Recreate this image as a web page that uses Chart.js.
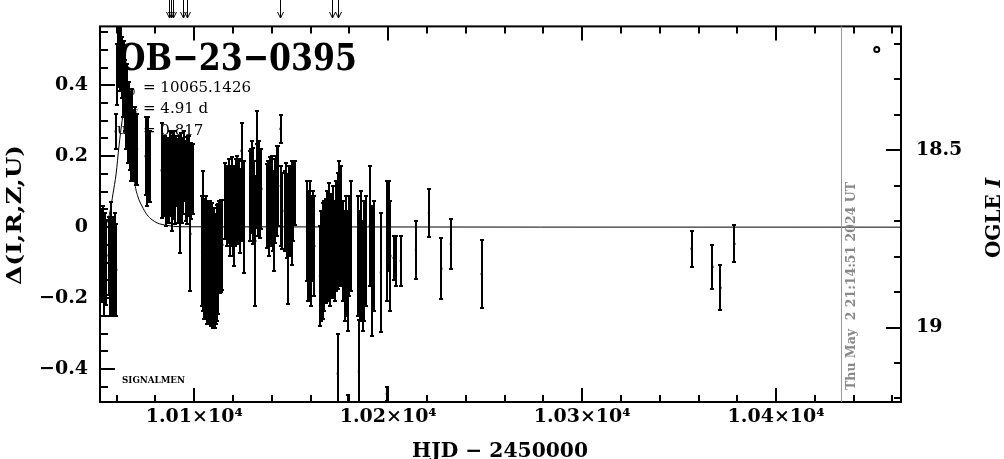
<!DOCTYPE html>
<html>
<head>
<meta charset="utf-8">
<script src="https://cdn.jsdelivr.net/npm/chart.js@4.4.1/dist/chart.umd.min.js"></script>
<style>
  html, body { margin: 0; padding: 0; background: #fff; }
  #wrap { width: 1004px; height: 459px; }
  canvas { display: block; }
</style>
</head>
<body>
<div id="wrap"><canvas id="c" width="1004" height="459"></canvas></div>
<script>
// photometry: HJD-2450000, delta mag, error (one line per season chunk)
const hjd = [
  10051.8, 10052.3, 10052.9, 10053.4, 10053.9, 10054.6, 10055.8, 10056.3, 10056.9, 10057.4, 10058.0, 10058.6, 10059.2, 10059.8,
  10059.5, 10060.2, 10060.7, 10061.2, 10061.7, 10062.2, 10062.7, 10063.3, 10063.8, 10064.3, 10064.8, 10065.4, 10065.9, 10066.4, 10066.9, 10067.4, 10068.0, 10068.5, 10069.0, 10069.5, 10070.0, 10070.5,
  10074.9, 10075.4, 10075.9, 10076.4, 10077.0, 10083.2,
  10084.2, 10084.7, 10085.2, 10085.7, 10086.2, 10086.8, 10087.3, 10087.8, 10088.3, 10088.8, 10089.3, 10089.8, 10090.3, 10090.8, 10091.4,
  10091.9, 10092.4, 10092.9, 10093.4, 10093.9, 10094.4, 10094.9, 10095.5, 10096.0, 10096.5, 10097.0, 10097.5, 10098.0, 10098.5, 10099.3,
  10104.0, 10104.5, 10105.0, 10105.6, 10106.1, 10106.6, 10107.1, 10107.6, 10108.1, 10108.6, 10109.1,
  10109.6, 10110.2, 10110.7, 10111.2, 10111.7, 10112.2, 10112.7, 10113.2, 10113.8, 10114.5,
  10116.1, 10116.8, 10117.9, 10118.6, 10119.1, 10119.7, 10120.2, 10120.7, 10121.2, 10121.7, 10122.2, 10122.8, 10123.3, 10123.8, 10124.4, 10124.8, 10125.6,
  10128.9, 10129.4, 10130.0, 10130.5, 10131.0, 10131.5, 10132.1, 10132.5, 10133.0, 10133.6, 10134.1, 10134.6,
  10137.7, 10138.2, 10138.7, 10139.2, 10139.7, 10140.3, 10140.8, 10141.3, 10141.8, 10142.3, 10142.8, 10143.3, 10144.5, 10144.9, 10145.4,
  10147.0, 10147.5, 10148.0, 10148.5, 10149.1, 10149.6, 10150.3, 10151.1, 10151.9,
  10158.1, 10158.8, 10159.6, 10160.4, 10161.1, 10161.9,
  10164.8, 10165.6, 10166.3, 10167.1, 10167.9, 10168.6, 10169.4, 10170.2, 10170.9, 10171.7, 10172.5, 10173.3, 10174.0, 10174.8, 10175.6, 10174.0,
  10176.9, 10177.6, 10178.4, 10179.2, 10180.0, 10180.7, 10179.2,
  10184.6, 10185.4, 10186.1, 10186.9, 10187.7, 10188.5, 10184.9,
  10190.5, 10191.5, 10192.6, 10196.2, 10199.5, 10200.3, 10201.1, 10199.3, 10202.8, 10203.8,
  10206.5, 10214.3, 10221.0, 10227.4, 10232.3, 10248.2, 10356.4, 10367.2, 10371.3, 10378.5
];
const dmag = [
  -0.06, -0.09, -0.04, -0.12, -0.07, -0.10, -0.08, -0.13, -0.06, -0.11, -0.09, -0.15, -0.08, -0.12,
  0.27, 0.43, 0.48, 0.51, 0.47, 0.50, 0.45, 0.41, 0.44, 0.37, 0.33, 0.36, 0.29, 0.31, 0.27, 0.24, 0.29, 0.23, 0.22, 0.24, 0.19, 0.22,
  0.20, 0.17, 0.21, 0.19, 0.17, 0.16,
  0.145, 0.159, 0.116, 0.102, 0.145, 0.130, 0.173, 0.145, 0.116, 0.159, 0.187, 0.136, 0.116, 0.159, 0.130,
  0.145, 0.012, 0.136, 0.164, 0.125, 0.145, 0.173, 0.130, 0.153, 0.116, 0.145, 0.159, -0.019, 0.130, 0.136,
  -0.067, -0.039, -0.089, -0.101, -0.081, -0.109, -0.095, -0.117, -0.089, -0.123, -0.101,
  -0.129, -0.109, -0.137, -0.117, -0.101, -0.089, -0.053, -0.060, -0.053, -0.050,
  0.074, 0.060, 0.074, 0.046, 0.060, 0.080, 0.046, 0.018, 0.060, 0.074, 0.088, 0.060, 0.080, 0.046, 0.215, 0.074, 0.029,
  0.088, 0.102, 0.116, 0.088, 0.074, -0.039, 0.187, 0.116, 0.102, 0.130, 0.088, 0.108,
  0.060, 0.074, 0.046, 0.080, 0.060, 0.074, 0.046, 0.004, 0.074, 0.088, 0.102, 0.116, 0.277, 0.060, 0.046,
  0.046, 0.074, 0.032, -0.039, 0.060, 0.046, 0.040, 0.074, 0.097,
  -0.010, -0.053, -0.039, -0.067, -0.025, -0.053,
  -0.137, -0.109, -0.095, -0.081, -0.067, -0.053, -0.039, -0.067, -0.053, -0.039, -0.067, -0.025, -0.010, 0.012, 0.004, -0.413,
  -0.067, -0.109, -0.081, -0.123, -0.053, -0.025, -0.517,
  -0.081, -0.109, -0.081, -0.137, -0.095, -0.067, -0.407,
  0.004, -0.123, -0.081, -0.128, -0.039, 0.004, -0.081, -0.470, -0.087, -0.095,
  -0.095, -0.064, 0.040, -0.117, -0.047, -0.132, -0.061, -0.112, -0.171, -0.047
];
const derr = [
  0.11, 0.12, 0.10, 0.13, 0.11, 0.12, 0.11, 0.12, 0.13, 0.14, 0.12, 0.10, 0.12, 0.13,
  0.05, 0.085, 0.085, 0.07, 0.085, 0.07, 0.085, 0.10, 0.085, 0.10, 0.11, 0.10, 0.11, 0.10, 0.11, 0.11, 0.10, 0.10, 0.085, 0.10, 0.07, 0.10,
  0.11, 0.11, 0.10, 0.12, 0.10, 0.135,
  0.113, 0.099, 0.113, 0.085, 0.107, 0.118, 0.099, 0.113, 0.127, 0.107, 0.085, 0.113, 0.107, 0.099, 0.118,
  0.113, 0.085, 0.107, 0.101, 0.113, 0.107, 0.099, 0.113, 0.101, 0.107, 0.113, 0.099, 0.161, 0.107, 0.099,
  0.155, 0.197, 0.169, 0.155, 0.169, 0.163, 0.169, 0.155, 0.163, 0.155, 0.169,
  0.155, 0.163, 0.146, 0.155, 0.163, 0.155, 0.127, 0.127, 0.130, 0.127,
  0.107, 0.113, 0.118, 0.127, 0.113, 0.118, 0.127, 0.127, 0.113, 0.118, 0.113, 0.107, 0.113, 0.118, 0.079, 0.113, 0.158,
  0.127, 0.118, 0.127, 0.135, 0.113, 0.183, 0.141, 0.118, 0.127, 0.113, 0.118, 0.113,
  0.118, 0.113, 0.127, 0.118, 0.113, 0.127, 0.113, 0.127, 0.118, 0.113, 0.127, 0.113, 0.039, 0.113, 0.107,
  0.113, 0.107, 0.118, 0.177, 0.113, 0.127, 0.146, 0.113, 0.090,
  0.141, 0.155, 0.169, 0.155, 0.127, 0.141,
  0.141, 0.155, 0.163, 0.155, 0.146, 0.155, 0.163, 0.155, 0.146, 0.155, 0.141, 0.155, 0.163, 0.175, 0.169, 0.113,
  0.141, 0.155, 0.169, 0.169, 0.141, 0.155, 0.045,
  0.169, 0.155, 0.183, 0.155, 0.169, 0.155, 0.144,
  0.169, 0.183, 0.155, 0.169, 0.169, 0.127, 0.155, 0.020, 0.062, 0.070,
  0.070, 0.082, 0.068, 0.085, 0.070, 0.096, 0.050, 0.063, 0.063, 0.052
];

// model curve
const modelT = [10051.4, 10053.5, 10055.0, 10056.6, 10058.1, 10059.7, 10061.2, 10062.8, 10064.3, 10065.3, 10066.4,
  10067.9, 10069.4, 10071.0, 10073.0, 10075.6, 10078.2, 10080.8, 10086.0, 10092.6, 10464.4];
const modelD = [0.001, 0.005, 0.013, 0.045, 0.094, 0.150, 0.229, 0.300, 0.345, 0.355, 0.335,
  0.200, 0.122, 0.085, 0.060, 0.035, 0.021, 0.012, 0.005, 0.001, 0.0];

// top arrows (HJD)
const arrowT = [10087.1, 10088.0, 10088.9, 10094.3, 10096.1, 10144.2, 10170.8, 10174.2];

// axes
const xMin = 10051.4, xMax = 10464.4;
const yMin = -0.493, yMax = 0.566;
const magZero = 18.717;          // OGLE I at delta = 0
const nowT = 10433.6;            // grey "now" line
const markT = 10451.9, markD = 0.501;

const SERIF = '"DejaVu Serif", serif';
const isMult = (v, s) => Math.abs(v / s - Math.round(v / s)) < 1e-6;

function fillFit(c, text, x, y, w) {
  const m = c.measureText(text).width;
  c.save();
  c.translate(x, y);
  c.scale(w / m, 1);
  c.fillText(text, 0, 0);
  c.restore();
}

const decor = {
  id: 'decor',
  beforeDatasetsDraw(chart) {
    const { ctx, chartArea: a, scales: { x, y } } = chart;
    ctx.save();
    ctx.fillStyle = '#000';
    // title and fit parameters sit under the data
    ctx.textAlign = 'left';
    ctx.textBaseline = 'alphabetic';
    ctx.font = 'bold 38px ' + SERIF;
    fillFit(ctx, 'OB\u221223\u22120395', 118, 70, 239);

    ctx.textBaseline = 'middle';
    ctx.font = '15px ' + SERIF;
    ctx.fillText('= 10065.1426', 143, 88);
    ctx.fillText('= 4.91 d', 143, 109);
    ctx.fillText('= 0.817', 143, 131);
    ctx.fillText('t', 124, 87);
    ctx.fillText('t', 126, 108);
    ctx.fillText('u', 117, 130);
    ctx.font = '10px ' + SERIF;
    ctx.fillText('0', 129, 92);
    ctx.fillText('E', 131, 113);
    ctx.fillText('0', 126, 135);

    ctx.font = 'bold 9px ' + SERIF;
    ctx.textBaseline = 'alphabetic';
    fillFit(ctx, 'SIGNALMEN', 122, 383, 63);

    // error bars
    ctx.beginPath();
    ctx.rect(a.left, a.top, a.right - a.left, a.bottom - a.top);
    ctx.clip();
    ctx.strokeStyle = '#000';
    ctx.lineWidth = 2;
    hjd.forEach((t, i) => {
      const px = Math.round(x.getPixelForValue(t));
      const top = Math.round(y.getPixelForValue(dmag[i] + derr[i]));
      const bot = Math.round(y.getPixelForValue(dmag[i] - derr[i]));
      ctx.beginPath();
      ctx.moveTo(px, top); ctx.lineTo(px, bot);
      ctx.moveTo(px - 2, top); ctx.lineTo(px + 2, top);
      ctx.moveTo(px - 2, bot); ctx.lineTo(px + 2, bot);
      ctx.stroke();
    });
    ctx.restore();
  },
  afterDraw(chart) {
    const { ctx, chartArea: a, scales: { x, y, y2 } } = chart;
    ctx.save();
    ctx.strokeStyle = '#000';
    ctx.lineWidth = 2;

    // inward ticks
    const tick = (x1, y1, x2, y2p) => { ctx.beginPath(); ctx.moveTo(x1, y1); ctx.lineTo(x2, y2p); ctx.stroke(); };
    x.ticks.forEach(t => {
      const px = Math.round(x.getPixelForValue(t.value));
      const len = isMult(t.value, 100) ? 14 : 7;
      tick(px, a.bottom, px, a.bottom - len);
      tick(px, a.top, px, a.top + len);
    });
    y.ticks.forEach(t => {
      const py = Math.round(y.getPixelForValue(t.value));
      const len = isMult(t.value, 0.2) ? 15 : 8;
      tick(a.left, py, a.left + len, py);
    });
    y2.ticks.forEach(t => {
      const py = Math.round(y2.getPixelForValue(t.value));
      const len = isMult(t.value, 0.5) ? 15 : 7;
      tick(a.right, py, a.right - len, py);
    });

    // frame
    ctx.strokeRect(a.left, a.top, a.right - a.left, a.bottom - a.top);

    // grey "now" line and time stamp
    const nx = Math.round(x.getPixelForValue(nowT)) + 0.5;
    ctx.strokeStyle = '#999';
    ctx.lineWidth = 1;
    tick(nx, a.top, nx, a.bottom);
    ctx.fillStyle = '#888';
    ctx.font = 'bold 12px ' + SERIF;
    ctx.textAlign = 'center';
    ctx.textBaseline = 'middle';
    ctx.save();
    ctx.translate(nx + 10, 286);
    ctx.rotate(-Math.PI / 2);
    fillFit(ctx, 'Thu May  2 21:14:51 2024 UT', 0, 0, 208);
    ctx.restore();

    // arrows above the frame
    ctx.strokeStyle = '#000';
    ctx.lineWidth = 1;
    arrowT.forEach(t => {
      const px = Math.round(x.getPixelForValue(t)) + 0.5;
      ctx.beginPath();
      ctx.moveTo(px, 0); ctx.lineTo(px, 18);
      ctx.moveTo(px - 3, 12); ctx.lineTo(px, 18); ctx.lineTo(px + 3, 12);
      ctx.stroke();
    });

    // axis titles
    ctx.fillStyle = '#000';
    ctx.font = 'bold 20px ' + SERIF;
    fillFit(ctx, 'HJD \u2212 2450000', 500, 452, 176);

    ctx.save();
    ctx.translate(16, 215);
    ctx.rotate(-Math.PI / 2);
    fillFit(ctx, '\u0394(I,R,Z,U)', 0, 0, 140);
    ctx.restore();

    ctx.save();
    ctx.translate(995, 218);
    ctx.rotate(-Math.PI / 2);
    ctx.textAlign = 'left';
    const w1 = ctx.measureText('OGLE ').width;
    ctx.font = 'bold italic 20px ' + SERIF;
    const w2 = ctx.measureText('I').width;
    ctx.fillText('I', -(w1 + w2) / 2 + w1, 0);
    ctx.font = 'bold 20px ' + SERIF;
    ctx.fillText('OGLE ', -(w1 + w2) / 2, 0);
    ctx.restore();

    ctx.restore();
  }
};

const tickFont = { family: SERIF, size: 19, weight: 'bold' };

new Chart(document.getElementById('c'), {
  type: 'scatter',
  data: {
    datasets: [
      {
        type: 'line',
        data: modelT.map((t, i) => ({ x: t, y: modelD[i] })),
        borderColor: '#000',
        borderWidth: 1,
        pointRadius: 0,
        cubicInterpolationMode: 'monotone',
        fill: false
      },
      {
        data: hjd.map((t, i) => ({ x: t, y: dmag[i] })),
        pointStyle: 'rect',
        pointRadius: 1.5,
        backgroundColor: '#000',
        borderColor: '#000',
        borderWidth: 0
      },
      {
        data: [{ x: markT, y: markD }],
        pointStyle: 'circle',
        pointRadius: 2.5,
        backgroundColor: '#fff',
        borderColor: '#000',
        borderWidth: 2
      }
    ]
  },
  options: {
    responsive: false,
    animation: false,
    events: [],
    layout: { padding: { top: 26, left: 0, right: 0, bottom: 0 } },
    plugins: { legend: { display: false }, tooltip: { enabled: false } },
    scales: {
      x: {
        type: 'linear', min: xMin, max: xMax,
        grid: { display: false, drawTicks: false }, border: { display: false },
        ticks: {
          stepSize: 20, includeBounds: false, autoSkip: false, maxRotation: 0, padding: 4,
          font: tickFont, color: '#000',
          callback: v => isMult(v, 100) ? (v / 1e4).toFixed(2) + '\u00d710\u2074' : ''
        },
        afterFit: s => { s.height = 57; }
      },
      y: {
        position: 'left', min: yMin, max: yMax,
        grid: { display: false, drawTicks: false }, border: { display: false },
        ticks: {
          stepSize: 0.05, includeBounds: false, autoSkip: false, padding: 12,
          font: tickFont, color: '#000',
          callback: v => !isMult(v, 0.2) ? '' : (Math.abs(v) < 1e-9 ? '0' : (v < 0 ? '\u2212' : '') + Math.abs(v).toFixed(1))
        },
        afterFit: s => { s.width = 100; }
      },
      y2: {
        position: 'right', min: magZero - yMax, max: magZero - yMin, reverse: true,
        grid: { display: false, drawTicks: false }, border: { display: false },
        ticks: {
          stepSize: 0.1, includeBounds: false, autoSkip: false, padding: 15,
          font: tickFont, color: '#000',
          callback: v => isMult(v, 0.5) ? String(v) : ''
        },
        afterFit: s => { s.width = 103; }
      }
    }
  },
  plugins: [decor]
});
</script>
</body>
</html>
